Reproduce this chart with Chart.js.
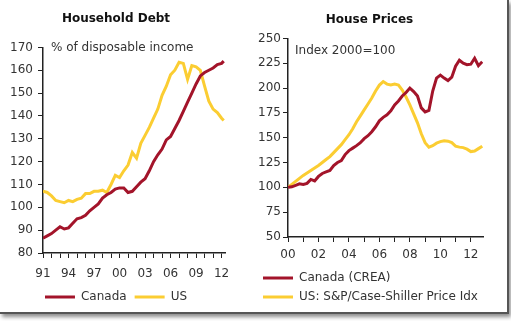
<!DOCTYPE html>
<html>
<head>
<meta charset="utf-8">
<script src="https://cdn.jsdelivr.net/npm/chart.js@4"></script>
<style>
  html, body { margin: 0; padding: 0; background: #fff; }
  #frame {
    position: absolute; left: 0; top: 0; width: 507px; height: 312px;
    background: #fff;
    border-right: 2px solid #555; border-bottom: 2px solid #555;
    box-shadow: 2px 3px 4px rgba(0,0,0,0.45);
  }
  canvas { position: absolute; top: 0; }
  #debtChart { left: 0; }
  #houseChart { left: 250px; }
</style>
</head>
<body>
<div id="frame">
  <canvas id="debtChart" width="250" height="313"></canvas>
  <canvas id="houseChart" width="257" height="313"></canvas>
</div>
<script>
// household debt, % of disposable income
const debtYears = [1991, 1991.5, 1992, 1992.5, 1993, 1993.5, 1994, 1994.5, 1995, 1995.5,
  1996, 1996.5, 1997, 1997.5, 1998, 1998.5, 1999, 1999.5, 2000, 2000.5,
  2001, 2001.5, 2002, 2002.5, 2003, 2003.5, 2004, 2004.5, 2005, 2005.5,
  2006, 2006.5, 2007, 2007.5, 2008, 2008.5, 2009, 2009.5, 2010, 2010.5,
  2011, 2011.5, 2012, 2012.25];
const debtCanada = [86.5, 87.5, 88.5, 90, 91.5, 90.5, 91, 93, 95, 95.5,
  96.5, 98.5, 100, 101.5, 104, 105.5, 106.5, 108, 108.5, 108.5,
  106.5, 107, 109, 111, 112.5, 116, 120, 123, 125.5, 129.5,
  131, 134.5, 138, 142, 146, 150, 154, 157.5, 159, 160,
  161, 162.5, 163, 164];
const debtUS = [107, 106.5, 105, 103, 102.5, 102, 103, 102.5, 103.5, 104,
  106, 106, 107, 107, 107.5, 106.5, 110, 114, 113, 116,
  118.5, 124, 121.5, 128, 131.5, 135, 139, 143, 149, 153,
  158, 160, 163.5, 163, 156, 162, 161.5, 160, 153, 146.5,
  143, 141.5, 139, 138];
const debtLabelYears = [1991, 1994, 1997, 2000, 2003, 2006, 2009, 2012];

// house prices, index 2000=100
const houseYears = [2000, 2000.25, 2000.5, 2000.75, 2001, 2001.25, 2001.5, 2001.75,
  2002, 2002.25, 2002.5, 2002.75, 2003, 2003.25, 2003.5, 2003.75,
  2004, 2004.25, 2004.5, 2004.75, 2005, 2005.25, 2005.5, 2005.75,
  2006, 2006.25, 2006.5, 2006.75, 2007, 2007.25, 2007.5, 2007.75,
  2008, 2008.25, 2008.5, 2008.75, 2009, 2009.25, 2009.5, 2009.75,
  2010, 2010.25, 2010.5, 2010.75, 2011, 2011.25, 2011.5, 2011.75,
  2012, 2012.25, 2012.5, 2012.75];
const houseCanada = [100, 100.5, 102, 103.5, 103, 104, 108, 106.5,
  111, 114, 115.5, 117, 122, 125, 127, 133,
  137, 139.5, 142, 145, 149, 152, 156, 161,
  167, 170.5, 173, 177, 183, 187, 192, 195.5,
  200, 196.5, 192, 180, 176, 177.5, 197, 210,
  213, 210, 207.5, 211, 222, 228, 225, 223.5,
  224, 230, 222.5, 226.5];
const houseUS = [100, 103, 106, 109, 112, 114.5, 117, 119.5,
  122, 125, 128, 131, 135, 139, 143, 148,
  153, 159, 166, 172, 178, 184, 190, 197,
  203, 206.5, 204, 203, 204, 203, 198, 191,
  183, 174, 165, 154, 145, 140.5, 142, 144.5,
  146, 147, 146.5, 145, 141.5, 140.5, 140, 138.5,
  136, 136.5, 139, 141.5];
const houseLabelYears = [2000, 2002, 2004, 2006, 2008, 2010, 2012];

const RED = '#a3142a';
const YELLOW = '#fbcd32';

Chart.defaults.font.family = '"DejaVu Sans", Verdana, sans-serif';
Chart.defaults.font.size = 12;
Chart.defaults.color = '#333';

// small text inside the plot area ("% of disposable income" etc)
const noteText = {
  id: 'noteText',
  afterDraw(chart, args, opts) {
    const ctx = chart.ctx;
    ctx.save();
    ctx.font = '12px "DejaVu Sans", Verdana, sans-serif';
    ctx.fillStyle = '#333';
    ctx.textBaseline = 'middle';
    ctx.textAlign = 'left';
    ctx.fillText(opts.text, chart.chartArea.left + opts.dx, chart.chartArea.top + opts.dy);
    ctx.restore();
  }
};

function toPoints(xs, ys){
  return xs.map((x, i) => ({x: x, y: ys[i]}));
}

function lineSet(label, xs, ys, color){
  return {
    label: label,
    data: toPoints(xs, ys),
    borderColor: color,
    backgroundColor: color,
    borderWidth: 3,
    pointRadius: 0,
    tension: 0
  };
}

function makeChart(id, cfg){
  return new Chart(document.getElementById(id), {
    type: 'line',
    data: { datasets: cfg.datasets },
    plugins: [noteText],
    options: {
      responsive: false,
      animation: false,
      parsing: false,
      layout: { padding: cfg.padding },
      plugins: {
        title: {
          display: true,
          text: cfg.title,
          color: '#111',
          font: { size: 12, weight: 'bold' },
          padding: cfg.titlePadding
        },
        legend: {
          position: 'bottom',
          align: cfg.legendAlign,
          labels: {
            boxWidth: 30,
            boxHeight: 3,
            padding: cfg.legendPadding,
            color: '#333',
            generateLabels: (c) => Chart.defaults.plugins.legend.labels.generateLabels(c)
              .map(l => Object.assign(l, {lineWidth: 0}))
          }
        },
        tooltip: { enabled: false },
        noteText: cfg.note
      },
      scales: {
        x: {
          type: 'linear',
          min: cfg.xMin,
          max: cfg.xMax,
          afterFit: (s) => { s.height = cfg.xHeight; },
          border: { display: true, color: '#222', width: 1.5 },
          grid: { drawOnChartArea: false, drawTicks: true, tickLength: 5, color: '#222', lineWidth: 1 },
          ticks: {
            stepSize: 1,
            includeBounds: false,
            autoSkip: false,
            maxRotation: 0,
            padding: cfg.xTickPadding,
            color: '#333',
            callback: (v) => cfg.labelYears.includes(v) ? String(v).slice(2) : ''
          }
        },
        y: {
          min: cfg.yMin,
          max: cfg.yMax,
          afterFit: (s) => { s.width = cfg.yWidth; },
          border: { display: true, color: '#222', width: 1.5 },
          grid: { drawOnChartArea: false, drawTicks: true, tickLength: 5, color: '#222', lineWidth: 1 },
          ticks: { stepSize: cfg.yStep, padding: cfg.yTickPadding, color: '#333' }
        }
      }
    }
  });
}

makeChart('debtChart', {
  title: 'Household Debt',
  titlePadding: { top: 12, bottom: 21 },
  padding: { left: 7, right: 25, top: 0, bottom: 0 },
  datasets: [
    lineSet('Canada', debtYears, debtCanada, RED),
    lineSet('US', debtYears, debtUS, YELLOW)
  ],
  legendAlign: 'center',
  legendPadding: 8,
  note: { text: '% of disposable income', dx: 8, dy: 0 },
  xMin: 1991, xMax: 2012.4, xHeight: 30, xTickPadding: 9,
  labelYears: debtLabelYears,
  yMin: 80, yMax: 170, yStep: 10, yWidth: 36, yTickPadding: 5
});

makeChart('houseChart', {
  title: 'House Prices',
  titlePadding: { top: 13, bottom: 11 },
  padding: { left: 6, right: 24, top: 0, bottom: 0 },
  datasets: [
    lineSet('Canada (CREA)', houseYears, houseCanada, RED),
    lineSet('US: S&P/Case-Shiller Price Idx', houseYears, houseUS, YELLOW)
  ],
  legendAlign: 'start',
  legendPadding: 7,
  note: { text: 'Index 2000=100', dx: 7, dy: 12 },
  xMin: 2000, xMax: 2012.8, xHeight: 28, xTickPadding: 6,
  labelYears: houseLabelYears,
  yMin: 50, yMax: 250, yStep: 25, yWidth: 32, yTickPadding: 2
});
</script>
</body>
</html>
